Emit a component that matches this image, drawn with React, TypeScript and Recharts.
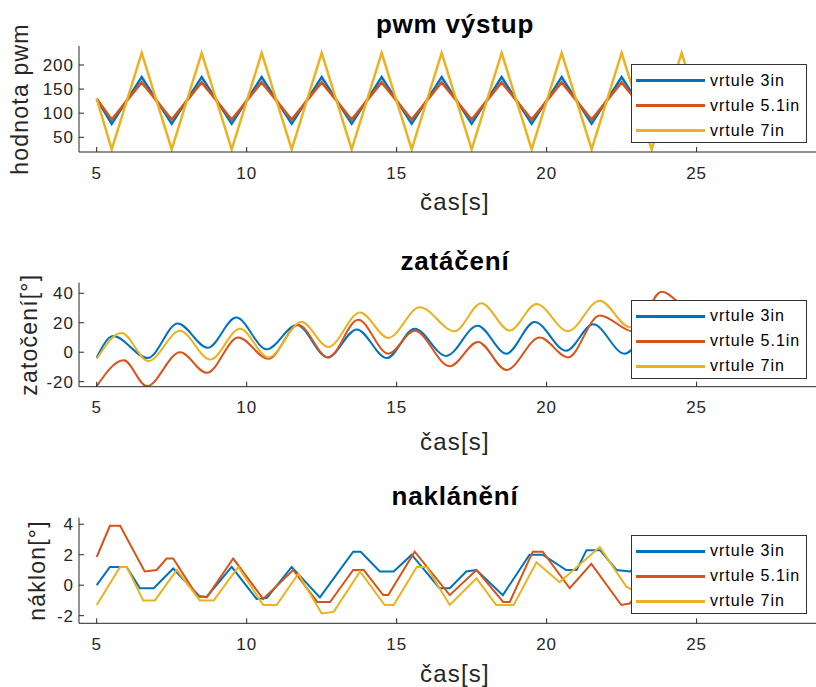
import { LineChart, Line, XAxis, YAxis } from 'recharts';

// MATLAB-style figure: three stacked subplots sharing the time axis

const FONT = '"Liberation Sans", Arial, Helvetica, sans-serif';
const INK = '#262626';
const COLORS = ['#0072BD', '#D95319', '#EDB120'];
const SERIES_NAMES = ['vrtule 3in', 'vrtule 5.1in', 'vrtule 7in'];
const TIME_TICKS = [5, 10, 15, 20, 25];
const TIME_DOMAIN = [4.41, 29.48];

// pwm výstup
const pwmTime = [5, 5.5, 6.5, 7.5, 8.5, 9.5, 10.5, 11.5, 12.5, 13.5, 14.5, 15.5, 16.5, 17.5, 18.5, 19.5, 20.5, 21.5, 22.5, 23.5, 24.5, 25];
const pwm3in = [130, 78, 175, 78, 175, 78, 175, 78, 175, 78, 175, 78, 175, 78, 175, 78, 175, 78, 175, 78, 175, 130];
const pwm51in = [130, 87, 164, 87, 164, 87, 164, 87, 164, 87, 164, 87, 164, 87, 164, 87, 164, 87, 164, 87, 164, 128];
const pwm7in = [130, 25, 225, 25, 225, 25, 225, 25, 225, 25, 225, 25, 225, 25, 225, 25, 225, 25, 225, 25, 225, 125];
const PWM_TICKS = [50, 100, 150, 200];

// zatáčení
const yaw3inT = [5, 5.55, 6.7, 7.7, 8.7, 9.65, 10.67, 11.67, 12.7, 13.67, 14.67, 15.6, 16.65, 17.7, 18.66, 19.6, 20.65, 21.55, 22.6, 23.6, 24.6, 25];
const yaw3inV = [-3.5, 11, -4, 19.5, 3, 23.5, 2, 18.5, -3.5, 15.5, -4, 16, -2.5, 18, -1, 20.5, 1, 19, -1, 17, -1, 3];
const yaw51inT = [5, 5.9, 6.67, 7.78, 8.67, 9.72, 10.72, 11.72, 12.72, 13.72, 14.72, 15.6, 16.77, 17.71, 18.66, 19.77, 20.71, 21.77, 22.9, 23.83, 24.6, 25];
const yaw51inV = [-23, -5.5, -23, 0, -14, 10, -4.5, 18.5, -3.5, 22, -1, 14.5, -9.5, 7, -12, 10, -3.5, 25, 14, 41, 30, 24];
const yaw7inT = [5, 5.83, 6.72, 7.78, 8.78, 9.78, 10.72, 11.83, 12.72, 13.78, 14.72, 15.77, 16.93, 17.82, 18.77, 19.66, 20.71, 21.77, 22.77, 23.8, 24.8, 25];
const yaw7inV = [-4.5, 13, -6, 14.5, -5, 16, -3.5, 20.5, 3.5, 27, 9.7, 30.5, 14.3, 33.3, 14.7, 32.8, 14.3, 35, 17, 33, 18, 19];
const YAW_TICKS = [-20, 0, 20, 40];

// naklánění
const tilt3inT = [5, 5.44, 6, 6.44, 6.9, 7.55, 8.44, 8.67, 9.5, 10.33, 10.67, 11.5, 12.44, 13.55, 13.8, 14.44, 14.9, 15.5, 16.43, 16.77, 17.32, 17.66, 18.54, 19.43, 19.87, 20.65, 21, 21.33, 21.78, 22.33, 22.77, 23.5, 24.5, 25];
const tilt3inV = [0, 1.2, 1.2, -0.2, -0.2, 1.1, -0.75, -0.75, 1.2, -0.9, -0.85, 1.2, -0.8, 2.2, 2.2, 0.9, 0.9, 2, -0.2, -0.2, 0.9, 1, -0.65, 2, 2, 1, 1, 2.3, 2.3, 1, 0.9, 1.5, 0.5, 1];
const tilt51inT = [5, 5.44, 5.78, 6.6, 7, 7.33, 7.55, 8.33, 8.67, 9.55, 10.55, 11.55, 12.35, 12.78, 13.55, 13.9, 14.55, 14.72, 15.6, 16.77, 17.66, 18.55, 18.77, 19.54, 19.87, 20.77, 21.49, 22.49, 22.77, 23.5, 24.5, 25];
const tilt51inV = [1.85, 3.9, 3.9, 0.9, 1, 1.75, 1.75, -0.65, -0.8, 1.75, -0.9, 1, -1.1, -1.1, 1, 1, -0.65, -0.65, 2.2, -0.65, 1, -1.1, -1.1, 2.2, 2.2, -0.2, 1.4, -1.3, -1.2, 0.5, 1.5, 1];
const tilt7inT = [5, 5.78, 6, 6.55, 6.94, 7.67, 8.44, 8.9, 9.72, 10.55, 11, 11.72, 12.5, 12.9, 13.78, 14.6, 14.9, 15.67, 16, 16.77, 17.66, 18.32, 18.9, 19.66, 20.43, 21.77, 22.66, 23.5, 24.5, 25];
const tilt7inV = [-1.3, 1.2, 1.2, -1, -1, 1, -1, -1, 1.2, -1.3, -1.3, 0.75, -1.85, -1.75, 0.9, -1.3, -1.3, 1.2, 1.2, -1.3, 0.45, -1.3, -1.3, 1.5, 0.2, 2.5, -0.1, -1, 0.5, 0];
const TILT_TICKS = [-2, 0, 2, 4];

const toPoints = (t: number[], v: number[]) => t.map((time, i) => ({ t: time, v: v[i] }));

const XTick = ({ x, y, payload }: any) => (
  <g>
    <line x1={x} x2={x} y1={y} y2={y - 5} stroke={INK} />
    <text x={x} y={y + 26.5} textAnchor="middle" fill={INK} fontSize={17} fontFamily={FONT} letterSpacing={1}>
      {payload.value}
    </text>
  </g>
);

const YTick = ({ x, y, payload }: any) => (
  <g>
    <line x1={x} x2={x + 5} y1={y} y2={y} stroke={INK} />
    <text x={x - 5} y={y} dy="0.36em" textAnchor="end" fill={INK} fontSize={17} fontFamily={FONT} letterSpacing={1}>
      {payload.value}
    </text>
  </g>
);

function Panel({ top, height, marginTop, title, yLabel, yLabelX, xLabelOffset, yDomain, yTicks, series, curve, lineWidth }: any) {
  const plotLeft = 79;
  const plotRight = 831;
  return (
    <div style={{ position: 'absolute', left: 0, top }}>
      <LineChart width={832} height={height} margin={{ top: marginTop, right: 1, left: 0, bottom: 0 }}>
        <XAxis
          type="number"
          dataKey="t"
          domain={TIME_DOMAIN}
          ticks={TIME_TICKS}
          allowDataOverflow
          height={70}
          stroke={INK}
          tickSize={0}
          tickMargin={0}
          tickLine={false}
          tick={<XTick />}
          label={{
            content: ({ viewBox }: any) => (
              <text
                x={viewBox.x + viewBox.width / 2}
                y={viewBox.y + xLabelOffset}
                textAnchor="middle"
                fill={INK}
                fontSize={24}
                fontFamily={FONT}
                letterSpacing={1.2}
              >
                čas[s]
              </text>
            ),
          }}
        />
        <YAxis
          type="number"
          domain={yDomain}
          ticks={yTicks}
          allowDataOverflow
          width={plotLeft}
          stroke={INK}
          tickSize={0}
          tickMargin={0}
          tickLine={false}
          tick={<YTick />}
          label={{
            content: ({ viewBox }: any) => {
              const cy = viewBox.y + viewBox.height / 2;
              return (
                <text
                  x={yLabelX}
                  y={cy}
                  transform={`rotate(-90 ${yLabelX} ${cy})`}
                  textAnchor="middle"
                  fill={INK}
                  fontSize={23}
                  fontFamily={FONT}
                  letterSpacing={1.2}
                >
                  {yLabel}
                </text>
              );
            },
          }}
        />
        {series.map((s: any, i: number) => (
          <Line
            key={i}
            data={s}
            dataKey="v"
            type={curve}
            stroke={COLORS[i]}
            strokeWidth={lineWidth}
            dot={false}
            activeDot={false}
            isAnimationActive={false}
          />
        ))}
        <text
          x={(plotLeft + plotRight) / 2}
          y={marginTop - 13}
          textAnchor="middle"
          fill="#000"
          fontSize={26}
          fontWeight="bold"
          fontFamily={FONT}
          letterSpacing={0.8}
        >
          {title}
        </text>
      </LineChart>
    </div>
  );
}

function LegendBox({ top }: { top: number }) {
  return (
    <div
      style={{
        position: 'absolute',
        left: 631,
        top,
        width: 176,
        height: 79,
        boxSizing: 'border-box',
        border: '1px solid #333',
        background: '#fff',
        paddingTop: 3,
        fontFamily: FONT,
      }}
    >
      {SERIES_NAMES.map((name, i) => (
        <div key={name} style={{ display: 'flex', alignItems: 'center', height: 25 }}>
          <div style={{ marginLeft: 4, width: 69, height: 3, background: COLORS[i] }} />
          <span style={{ marginLeft: 5, fontSize: 16, letterSpacing: 1, color: '#000' }}>{name}</span>
        </div>
      ))}
    </div>
  );
}

export default function App() {
  return (
    <div style={{ position: 'absolute', left: 0, top: 0, width: 816, height: 687, overflow: 'hidden', background: '#fff' }}>
      <Panel
        top={0}
        height={222}
        marginTop={46}
        title="pwm výstup"
        yLabel="hodnota pwm"
        yLabelX={28}
        xLabelOffset={58}
        yDomain={[19.5, 239.4]}
        yTicks={PWM_TICKS}
        curve="linear"
        lineWidth={2.5}
        series={[toPoints(pwmTime, pwm3in), toPoints(pwmTime, pwm51in), toPoints(pwmTime, pwm7in)]}
      />
      <Panel
        top={235}
        height={221.7}
        marginTop={47.7}
        title="zatáčení"
        yLabel="zatočení[°]"
        yLabelX={37}
        xLabelOffset={63}
        yDomain={[-23.4, 47.2]}
        yTicks={YAW_TICKS}
        curve="monotone"
        lineWidth={2}
        series={[toPoints(yaw3inT, yaw3inV), toPoints(yaw51inT, yaw51inV), toPoints(yaw7inT, yaw7inV)]}
      />
      <Panel
        top={470}
        height={223.3}
        marginTop={47.7}
        title="naklánění"
        yLabel="náklon[°]"
        yLabelX={45}
        xLabelOffset={58.5}
        yDomain={[-2.5, 4.43]}
        yTicks={TILT_TICKS}
        curve="linear"
        lineWidth={2}
        series={[toPoints(tilt3inT, tilt3inV), toPoints(tilt51inT, tilt51inV), toPoints(tilt7inT, tilt7inV)]}
      />
      <LegendBox top={64} />
      <LegendBox top={299.5} />
      <LegendBox top={534.5} />
    </div>
  );
}
